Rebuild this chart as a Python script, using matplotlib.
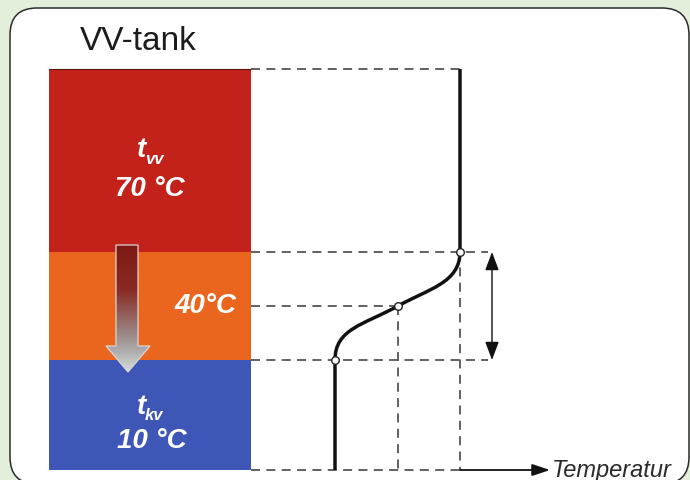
#!/usr/bin/env python3

import numpy as np
import matplotlib.pyplot as plt
from matplotlib.patches import FancyBboxPatch, Polygon, PathPatch, Rectangle
from matplotlib.path import Path
from matplotlib.colors import LinearSegmentedColormap

plt.rcParams['font.family'] = ['Liberation Sans', 'DejaVu Sans']

# tank layers (top to bottom), y in pixels of the drawing
layer_edges = [70, 253, 361, 471]
layer_colors = ['#c2221a', '#ea661e', '#3e56b5']
layer_temps = ['70 °C', '40°C', '10 °C']

# temperature profile: x position for 10, 40, 70 °C and the heights where they start
profile_temps = [10, 40, 70]
profile_x = [335, 398, 460]
profile_y = [361, 307, 253]

tank_x = [49, 251]
axis_y = 471
axis_end = 550

fig = plt.figure(figsize=(6.9, 4.81), dpi=100)
fig.patch.set_facecolor('#e3efda')
ax = fig.add_axes([0, 0, 1, 1])
ax.set_xlim(0, 690)
ax.set_ylim(481, 0)
ax.axis('off')

# white rounded frame
frame = FancyBboxPatch((10, 9), 679, 476, boxstyle='round,pad=0,rounding_size=27',
                       facecolor='white', edgecolor='#2b2b2b', lw=1.1)
ax.add_patch(frame)

ax.text(80, 50, 'VV-tank', fontsize=24, color='#1c1c1c', ha='left', va='baseline')

# tank layers
for i, c in enumerate(layer_colors):
    ax.add_patch(Rectangle((tank_x[0], layer_edges[i]), tank_x[1] - tank_x[0],
                           layer_edges[i + 1] - layer_edges[i], facecolor=c, edgecolor='none'))
ax.plot(tank_x, [layer_edges[0], layer_edges[0]], color='#5a1410', lw=0.8)

# gradient arrow inside tank
arrow_pts = [(116, 246), (138, 246), (138, 347), (150, 347), (128, 373), (106, 347), (116, 347)]
arrow = Polygon(arrow_pts, closed=True, facecolor='none', edgecolor='#d6d6d6', lw=0.9, zorder=3)
ax.add_patch(arrow)
grad_cmap = LinearSegmentedColormap.from_list(
    'arr', [(0, '#7e1912'), (0.35, '#8a2a24'), (0.7, '#9a8886'), (0.85, '#b0b0b0'), (1, '#dcdcdc')])
grad = np.linspace(0, 1, 200).reshape(-1, 1)
im = ax.imshow(grad, cmap=grad_cmap, extent=(106, 150, 373, 246), aspect='auto', zorder=2)
im.set_clip_path(arrow)
ax.set_xlim(0, 690)
ax.set_ylim(481, 0)

# labels in tank
txt = dict(color='white', fontweight='bold', fontstyle='italic')
ax.text(150, 196, layer_temps[0], fontsize=20, ha='center', va='baseline', **txt)
ax.text(137, 157, 't', fontsize=20, ha='left', va='baseline', **txt)
ax.text(145, 164, 'vv', fontsize=12, ha='left', va='baseline', **txt)
ax.text(205, 313, layer_temps[1], fontsize=20, ha='center', va='baseline', **txt)
ax.text(152, 448, layer_temps[2], fontsize=20, ha='center', va='baseline', **txt)
ax.text(137, 414, 't', fontsize=20, ha='left', va='baseline', **txt)
ax.text(145, 420, 'kv', fontsize=12, ha='left', va='baseline', **txt)

# dashed guide lines
dash = dict(color='#555555', lw=1.3, linestyle=(0, (5, 3.5)))
ax.plot([tank_x[1], profile_x[2]], [layer_edges[0]] * 2, **dash)
ax.plot([tank_x[1], 488], [profile_y[2]] * 2, **dash)
ax.plot([tank_x[1], profile_x[1]], [profile_y[1]] * 2, **dash)
ax.plot([tank_x[1], 488], [profile_y[0]] * 2, **dash)
ax.plot([tank_x[1], profile_x[2]], [axis_y] * 2, **dash)
ax.plot([profile_x[1]] * 2, [profile_y[1], axis_y], **dash)
ax.plot([profile_x[2]] * 2, [profile_y[2], axis_y], **dash)

# temperature profile curve
x0, x1, x2 = profile_x
y0, y1, y2 = profile_y
verts = [(x0, axis_y), (x0, y0),
         (x0, y0 - 31), (x1 - 35, y1 + 19), (x1, y1),
         (x1 + 30, y1 - 17), (x2, y2 + 31), (x2, y2),
         (x2, layer_edges[0])]
codes = [Path.MOVETO, Path.LINETO,
         Path.CURVE4, Path.CURVE4, Path.CURVE4,
         Path.CURVE4, Path.CURVE4, Path.CURVE4,
         Path.LINETO]
ax.add_patch(PathPatch(Path(verts, codes), facecolor='none', edgecolor='#111111',
                       lw=2.5, capstyle='butt', zorder=4))
ax.scatter(profile_x, profile_y, s=30, facecolor='white', edgecolor='#222222',
           linewidths=1.0, zorder=5)

# double arrow for transition zone
ax.annotate('', xy=(492, profile_y[2]), xytext=(492, profile_y[0]),
            arrowprops=dict(arrowstyle='<|-|>,head_length=0.8,head_width=0.3',
                            mutation_scale=14, color='#111111', lw=1.0,
                            shrinkA=0, shrinkB=0))

# temperature axis arrow
ax.annotate('', xy=(axis_end, axis_y), xytext=(profile_x[2], axis_y),
            arrowprops=dict(arrowstyle='-|>,head_length=0.9,head_width=0.3',
                            mutation_scale=12, color='#111111', lw=1.3,
                            shrinkA=0, shrinkB=0))
ax.text(552, 477, 'Temperatur', fontsize=17, fontstyle='italic', color='#2a2a2a',
        ha='left', va='baseline')

fig.savefig('out.png', dpi=100, facecolor=fig.get_facecolor())
